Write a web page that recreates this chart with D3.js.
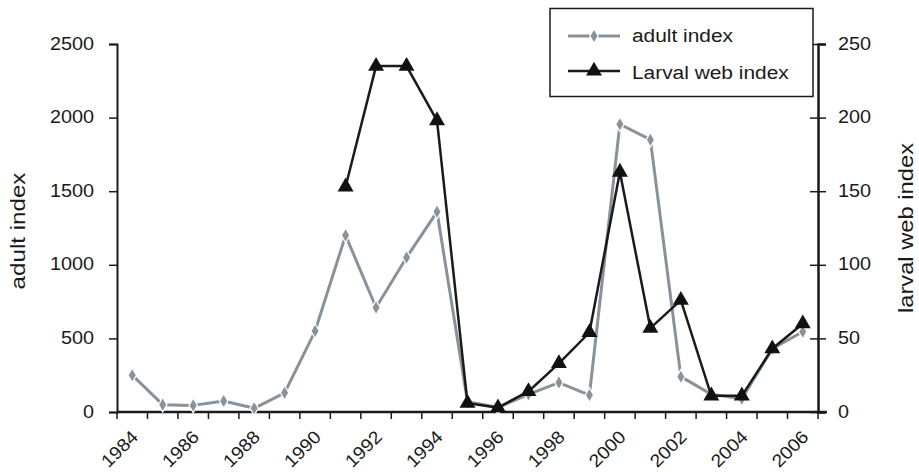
<!DOCTYPE html>
<html><head><meta charset="utf-8">
<script src="https://cdn.jsdelivr.net/npm/d3@7"></script>
<style>
body{margin:0;background:#fff;}
text{font-family:"Liberation Sans",Arial,sans-serif;fill:#1a1a1a;}
</style></head>
<body><svg id="c" width="919" height="472"></svg>
<script>
const years = [1984,1985,1986,1987,1988,1989,1990,1991,1992,1993,1994,1995,1996,1997,1998,1999,2000,2001,2002,2003,2004,2005,2006];
const adultIndex = [250,50,45,75,25,130,550,1200,710,1050,1360,70,30,120,200,115,1955,1850,240,120,90,430,545];
const larvalIndex = [null,null,null,null,null,null,null,153,235,235,198,6,3,14,33,54,163,57,76,11,11,43,60];
const leftTicks = [0,500,1000,1500,2000,2500];
const rightTicks = [0,50,100,150,200,250];
const xLabelYears = [1984,1986,1988,1990,1992,1994,1996,1998,2000,2002,2004,2006];

function stretch(sel, k){
  sel.each(function(){
    const w = this.getComputedTextLength();
    this.setAttribute("textLength", (w*k).toFixed(1));
    this.setAttribute("lengthAdjust","spacingAndGlyphs");
  });
}

const svg = d3.select("#c");
const L = 117, R = 818, T = 44, B = 412;
const x = d3.scaleBand().domain(years).range([L,R]).padding(0);
const yL = d3.scaleLinear().domain([0,2500]).range([B,T]);
const yR = d3.scaleLinear().domain([0,250]).range([B,T]);
const cx = d => x(d) + x.bandwidth()/2;

// left axis
const gl = svg.append("g").attr("transform",`translate(${L},0)`)
  .call(d3.axisLeft(yL).tickValues(leftTicks).tickSize(8).tickPadding(15).tickFormat(d3.format("d")));
gl.select(".domain").attr("stroke","#1a1a1a").attr("stroke-width",2);
gl.selectAll(".tick line").attr("stroke","#1a1a1a").attr("stroke-width",1.5);
gl.selectAll("text").attr("font-size",18).attr("dy","0.28em").style("font-family","Liberation Sans, Arial, sans-serif").attr("fill","#1a1a1a");
stretch(gl.selectAll("text"),1.1);

// right axis
const gr = svg.append("g").attr("transform",`translate(${R},0)`)
  .call(d3.axisRight(yR).tickValues(rightTicks).tickSize(8).tickPadding(12).tickFormat(d3.format("d")));
gr.select(".domain").attr("stroke","#1a1a1a").attr("stroke-width",2.5);
gr.selectAll(".tick line").attr("stroke","#1a1a1a").attr("stroke-width",1.5).attr("x1",-8);
gr.selectAll("text").attr("font-size",18).attr("dy","0.28em").style("font-family","Liberation Sans, Arial, sans-serif").attr("fill","#1a1a1a");
stretch(gr.selectAll("text"),1.1);

// bottom axis
const gb = svg.append("g").attr("transform",`translate(0,${B})`);
gb.append("line").attr("x1",L).attr("x2",R+9).attr("y1",0).attr("y2",0).attr("stroke","#1a1a1a").attr("stroke-width",2.5);
const bounds = years.map(d=>x(d)).concat([R]);
gb.selectAll("line.tk").data(bounds).enter().append("line").attr("class","tk")
  .attr("x1",d=>d).attr("x2",d=>d).attr("y1",0).attr("y2",7).attr("stroke","#1a1a1a").attr("stroke-width",1.5);
const xl = gb.selectAll("text.xl").data(xLabelYears).enter().append("text").attr("class","xl")
  .attr("transform",d=>`translate(${cx(d)+7},26) rotate(-45)`)
  .attr("text-anchor","end").attr("font-size",18).text(d=>d);
stretch(xl,1.08);

// axis titles
const t1 = svg.append("text").attr("transform",`translate(25,231) rotate(-90)`).attr("text-anchor","middle").attr("font-size",21).text("adult index");
const t2 = svg.append("text").attr("transform",`translate(913,228) rotate(-90)`).attr("text-anchor","middle").attr("font-size",21).text("larval web index");
stretch(t1,1.15); stretch(t2,1.13);

const grey = "#88929a";
// adult line
const adultData = years.map((y,i)=>({y, v:adultIndex[i]}));
svg.append("path").datum(adultData)
  .attr("d", d3.line().x(d=>cx(d.y)).y(d=>yL(d.v)))
  .attr("fill","none").attr("stroke",grey).attr("stroke-width",3).attr("stroke-linejoin","round");
const diamond = d3.symbol().type(d3.symbolDiamond).size(42);
svg.selectAll("path.ad").data(adultData).enter().append("path").attr("class","ad")
  .attr("transform",d=>`translate(${cx(d.y)},${yL(d.v)})`).attr("d",diamond)
  .attr("fill",grey).attr("stroke","#fff").attr("stroke-width",2.5).attr("paint-order","stroke");

// larval line
const larvalData = years.map((y,i)=>({y, v:larvalIndex[i]})).filter(d=>d.v!==null);
svg.append("path").datum(larvalData)
  .attr("d", d3.line().x(d=>cx(d.y)).y(d=>yR(d.v)))
  .attr("fill","none").attr("stroke","#1a1a1a").attr("stroke-width",2.5).attr("stroke-linejoin","miter");
const tri = d3.symbol().type(d3.symbolTriangle).size(110);
svg.selectAll("path.lv").data(larvalData).enter().append("path").attr("class","lv")
  .attr("transform",d=>`translate(${cx(d.y)},${yR(d.v)})`).attr("d",tri).attr("fill","#111");

// legend
const lg = svg.append("g");
lg.append("rect").attr("x",550).attr("y",8.5).attr("width",263).attr("height",88).attr("fill","#fff").attr("stroke","#1a1a1a").attr("stroke-width",1.5);
lg.append("line").attr("x1",568).attr("x2",620).attr("y1",36).attr("y2",36).attr("stroke",grey).attr("stroke-width",3);
lg.append("path").attr("transform","translate(594,36)").attr("d",diamond).attr("fill",grey).attr("stroke","#fff").attr("stroke-width",2.5).attr("paint-order","stroke");
const lt1 = lg.append("text").attr("x",632).attr("y",42).attr("font-size",18).text("adult index");
lg.append("line").attr("x1",568).attr("x2",620).attr("y1",71).attr("y2",71).attr("stroke","#1a1a1a").attr("stroke-width",2.5);
lg.append("path").attr("transform","translate(594,71)").attr("d",tri).attr("fill","#111");
const lt2 = lg.append("text").attr("x",632).attr("y",79).attr("font-size",18).text("Larval web index");
stretch(lt1,1.16); stretch(lt2,1.16);
</script></body></html>
